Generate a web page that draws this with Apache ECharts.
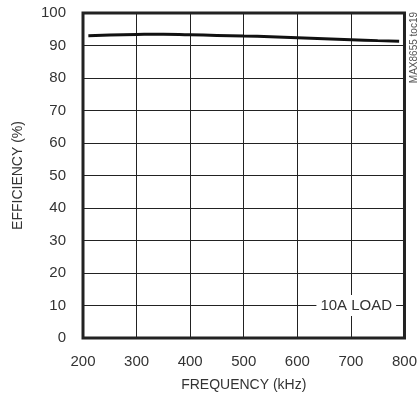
<!DOCTYPE html>
<html><head><meta charset="utf-8">
<script src="https://cdn.jsdelivr.net/npm/echarts@6/dist/echarts.min.js"></script>
<style>html,body{margin:0;padding:0;background:#fff}#c{width:420px;height:401px}</style>
</head><body><div id="c"></div>
<script>
const frequency = [210, 250, 300, 350, 400, 450, 500, 550, 600, 650, 700, 750, 790];
const efficiency = [93.0, 93.2, 93.4, 93.5, 93.3, 93.1, 92.9, 92.7, 92.4, 92.1, 91.8, 91.5, 91.3];
const xTicks = [200, 300, 400, 500, 600, 700, 800];
const yTicks = [0, 10, 20, 30, 40, 50, 60, 70, 80, 90, 100];
const loadLabel = {text: '10A LOAD', freq: 710, value: 10};
const FONT = '"Liberation Sans Narrow", "Arial Narrow", Arial, sans-serif';

const chart = echarts.init(document.getElementById('c'));
chart.setOption({
  animation: false,
  grid: {left: 83, top: 13, right: 11, bottom: 63, show: true, borderColor: '#222', borderWidth: 3, backgroundColor: 'transparent'},
  xAxis: {
    type: 'value', min: xTicks[0], max: xTicks[xTicks.length-1], interval: 100,
    name: 'FREQUENCY (kHz)', nameLocation: 'middle', nameGap: 40,
    nameTextStyle: {fontFamily: FONT, fontSize: 14, color: '#333'},
    axisLine: {show: false}, axisTick: {show: false},
    axisLabel: {fontFamily: FONT, fontSize: 15, color: '#333', margin: 16},
    splitLine: {show: true, lineStyle: {color: '#222', width: 1}}
  },
  yAxis: {
    type: 'value', min: yTicks[0], max: yTicks[yTicks.length-1], interval: 10,
    name: 'EFFICIENCY (%)', nameLocation: 'middle', nameGap: 58,
    nameTextStyle: {fontFamily: FONT, fontSize: 14, color: '#333'},
    axisLine: {show: false}, axisTick: {show: false},
    axisLabel: {fontFamily: FONT, fontSize: 15, color: '#333', margin: 17},
    splitLine: {show: true, lineStyle: {color: '#222', width: 1}}
  },
  series: [{
    type: 'line', data: frequency.map((f, i) => [f, efficiency[i]]),
    smooth: true, symbol: 'none', lineStyle: {color: '#111', width: 3},
    markPoint: {
      symbol: 'rect', symbolSize: 1, itemStyle: {color: 'transparent'},
      data: [{coord: [loadLabel.freq, loadLabel.value]}],
      label: {show: true, position: 'inside', formatter: loadLabel.text, fontFamily: FONT, fontSize: 15, color: '#333',
        backgroundColor: '#fff', padding: [3, 4]}
    }
  }],
  graphic: [{
    type: 'text', right: 1, top: 12, rotation: Math.PI/2,
    style: {text: 'MAX8655 toc19', fontFamily: FONT, fontSize: 10, fill: '#555'}
  }]
});
</script></body></html>
